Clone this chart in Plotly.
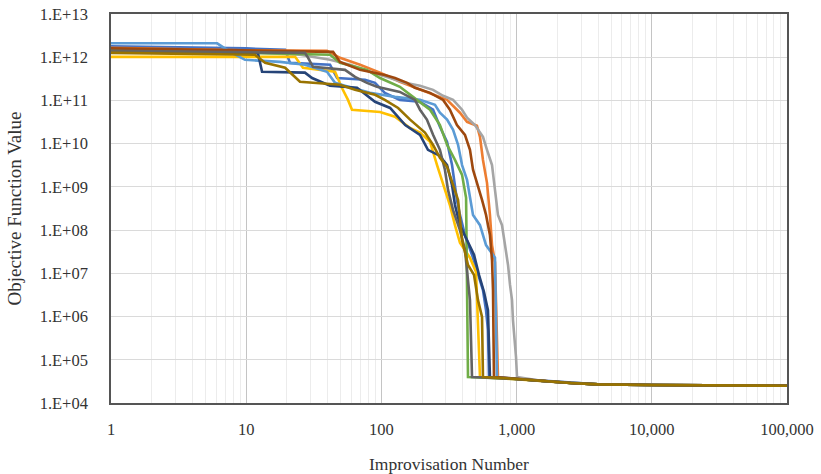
import plotly.graph_objects as go

# ---- data (Improvisation number vs objective function value) ----
S1_X = [1, 10, 19.4, 21.1, 41.7, 47, 75.6, 89.7, 106, 137, 193, 241, 271, 306, 333, 362, 381, 415, 468, 518, 564, 594, 614, 625]
S1_Y = [1.8e12, 1.6e12, 1.48e12, 7.4e11, 6.7e11, 3.3e11, 3.0e11, 2.55e11, 1.5e11, 1.03e11, 9.3e10, 6.1e10, 2.45e10, 1.1e10, 3.2e9, 5.0e8, 2.25e8, 7.7e7, 2.7e7, 9.2e6, 4.1e6, 1.4e6, 4.9e5, 4.0e4]

S2_X = [1, 10, 39.6, 49.4, 69.5, 97.7, 137, 193, 306, 381, 430, 509, 536, 564, 604, 635, 658, 692, 728]
S2_Y = [1.65e12, 1.45e12, 1.41e12, 9.7e11, 6.7e11, 4.4e11, 2.7e11, 1.76e11, 1.03e11, 5.2e10, 3.2e10, 2.6e10, 1.44e10, 4.2e9, 1.24e9, 2.25e8, 4.5e7, 1.8e7, 4.0e4]

S3_X = [1, 10, 25, 41.7, 58.6, 82.4, 116, 150, 193, 241, 286, 339, 395, 430, 492, 564, 604, 658, 692, 728, 780, 821, 864, 894, 925, 940, 973, 990, 1007]
S3_Y = [1.55e12, 1.3e12, 1.14e12, 8.7e11, 6.7e11, 4.6e11, 3.3e11, 2.55e11, 2.2e11, 1.76e11, 1.28e11, 1.03e11, 6.1e10, 4.0e10, 2.7e10, 1.44e10, 7.2e9, 3.2e9, 8.5e8, 2.25e8, 1.3e8, 4.5e7, 1.56e7, 5.4e6, 2.4e6, 8.3e5, 2.9e5, 1.16e5, 4.0e4]

S4_X = [1, 23, 26.3, 45.4, 51, 56.6, 60.6, 97.7, 126, 163, 193, 229, 258, 286, 321, 350, 381, 452, 501, 536]
S4_Y = [1.02e12, 1.02e12, 5.7e11, 4.6e11, 1.96e11, 1.03e11, 6.1e10, 5.4e10, 4.2e10, 2.3e10, 1.8e10, 1.1e10, 3.2e9, 1.1e9, 3.8e8, 1.3e8, 5.1e7, 2.3e7, 1.08e7, 4.0e4]

S5_X = [1, 6.1, 7.6, 9.8, 17.8, 27.2, 39.6, 45.4, 53.8, 82.4, 126, 193, 249, 271, 306, 339, 369, 395, 430, 452, 476, 536, 594, 692, 716]
S5_Y = [2.1e12, 2.1e12, 1.33e12, 8.7e11, 7.8e11, 6.7e11, 4.6e11, 2.55e11, 2.2e11, 1.5e11, 1.21e11, 1.03e11, 7.9e10, 5.2e10, 3.6e10, 2.1e10, 9.4e9, 3.2e9, 1.45e9, 5.6e8, 2.25e8, 1.3e8, 4.5e7, 2.3e7, 4.0e4]

S6_X = [1, 10, 41.7, 49.4, 78.2, 97.7, 137, 183, 229, 271, 306, 350, 395, 423, 437]
S6_Y = [1.48e12, 1.28e12, 1.14e12, 7.4e11, 5.1e11, 3.3e11, 2.07e11, 1.03e11, 6.1e10, 2.7e10, 9.4e9, 4.2e9, 1.9e9, 5.6e8, 4.0e4]

S7_X = [1, 12.2, 13.1, 27.2, 30.7, 41.7, 66, 71.8, 89.7, 116, 150, 193, 221, 271, 306, 333, 350, 381, 430, 484, 527, 574, 614, 635]
S7_Y = [1.33e12, 1.25e12, 4.6e11, 4.4e11, 3.3e11, 2.2e11, 1.96e11, 1.58e11, 9.3e10, 6.7e10, 2.7e10, 1.6e10, 7.2e9, 5.2e9, 3.2e9, 1.1e9, 3.8e8, 1.3e8, 5.9e7, 2.7e7, 9.2e6, 3.7e6, 1.4e6, 4.0e4]

S8_X = [1, 10, 43.9, 49.4, 69.5, 106, 126, 155, 177, 229, 286, 321, 362, 415, 452, 476, 518, 555, 594, 635, 658, 669, 680]
S8_Y = [1.6e12, 1.4e12, 1.33e12, 7.8e11, 5.1e11, 3.9e11, 3.3e11, 2.55e11, 1.96e11, 1.5e11, 1.03e11, 6.1e10, 2.7e10, 1.6e10, 7.2e9, 2.5e9, 1.1e9, 5.0e8, 2.25e8, 7.7e7, 2.0e7, 4.1e6, 4.0e4]

S9_X = [1, 27.2, 28.7, 31.2, 53.8, 63.8, 78.2, 92.7, 137, 177, 193, 217, 241, 271, 295, 311, 339, 381, 415, 430, 452, 468]
S9_Y = [1.4e12, 1.26e12, 9.7e11, 6.0e11, 5.1e11, 3.5e11, 2.55e11, 2.07e11, 1.58e11, 1.03e11, 6.1e10, 3.6e10, 1.6e10, 7.2e9, 2.5e9, 8.5e8, 2.9e8, 1.0e8, 3.5e7, 1.2e7, 2.4e6, 4.0e4]

S10_X = [1, 11.6, 13.8, 19.4, 25, 49.4, 63.8, 89.7, 106, 133, 163, 210, 241, 271, 306, 333, 369, 395, 437, 484, 518, 555, 564]
S10_Y = [1.26e12, 1.14e12, 7.4e11, 5.7e11, 2.7e11, 2.3e11, 1.76e11, 1.35e11, 1.03e11, 6.7e10, 3.6e10, 1.8e10, 9.4e9, 4.7e9, 2.9e9, 1.24e9, 5.0e8, 5.9e7, 1.56e7, 9.2e6, 2.4e6, 9.8e5, 4.0e4]

# common converged tail
TAIL_X = [1000, 1600, 2500, 4000, 10000, 100000]
TAIL_Y = [3.6e4, 3.2e4, 2.9e4, 2.7e4, 2.6e4, 2.5e4]

SERIES = [(S1_X, S1_Y), (S2_X, S2_Y), (S3_X, S3_Y), (S4_X, S4_Y), (S5_X, S5_Y),
          (S6_X, S6_Y), (S7_X, S7_Y), (S8_X, S8_Y), (S9_X, S9_Y), (S10_X, S10_Y)]
COLORS = ["#4472C4", "#ED7D31", "#A5A5A5", "#FFC000", "#5B9BD5",
          "#70AD47", "#264478", "#9E480E", "#636363", "#997300"]

X_TICKS = [1, 10, 100, 1000, 10000, 100000]
X_TICKTEXT = ["1", "10", "100", "1,000", "10,000", "100,000"]
Y_TICKS = [1e4, 1e5, 1e6, 1e7, 1e8, 1e9, 1e10, 1e11, 1e12, 1e13]
Y_TICKTEXT = ["1.E+04", "1.E+05", "1.E+06", "1.E+07", "1.E+08",
              "1.E+09", "1.E+10", "1.E+11", "1.E+12", "1.E+13"]
X_MINOR = [m * d for d in [1, 10, 100, 1000, 10000] for m in range(2, 10)]

fig = go.Figure()
for (xs, ys), col in zip(SERIES, COLORS):
    tx = [t for t in TAIL_X if t > xs[-1]]
    ty = [TAIL_Y[i] for i, t in enumerate(TAIL_X) if t > xs[-1]]
    fig.add_trace(go.Scatter(x=xs + tx, y=ys + ty, mode="lines",
                             line=dict(color=col, width=2.6),
                             showlegend=False, hoverinfo="skip"))

font_family = "Liberation Serif, Times New Roman, serif"
fig.update_layout(
    width=821, height=474,
    margin=dict(l=111, r=34, t=14, b=71),
    paper_bgcolor="white", plot_bgcolor="white",
    font=dict(family=font_family, size=16, color="#333333"),
)
fig.update_xaxes(
    type="log", range=[0, 5], automargin=False,
    tickmode="array", tickvals=X_TICKS, ticktext=X_TICKTEXT,
    showgrid=True, gridcolor="#c4c4c4", gridwidth=1.3,
    minor=dict(tickmode="array", tickvals=X_MINOR, showgrid=True,
               gridcolor="#ececec", gridwidth=1, ticks=""),
    showline=True, linecolor="#555555", linewidth=1.6, mirror=True,
    ticks="", ticklabelstandoff=10,
    tickfont=dict(family=font_family, size=16.5, color="#333333"),
    title=dict(text="Improvisation Number", standoff=22,
               font=dict(family=font_family, size=17.5, color="#333333")),
    zeroline=False,
)
fig.update_yaxes(
    type="log", range=[4, 13], automargin=False,
    tickmode="array", tickvals=Y_TICKS, ticktext=Y_TICKTEXT,
    showgrid=True, gridcolor="#dadada", gridwidth=1.3,
    showline=True, linecolor="#555555", linewidth=1.6, mirror=True,
    ticks="", ticklabelstandoff=18,
    tickfont=dict(family=font_family, size=16.5, color="#333333"),
    title=dict(text="Objective Function Value", standoff=13,
               font=dict(family=font_family, size=19, color="#333333")),
    zeroline=False,
)

fig.write_html("out.html")
